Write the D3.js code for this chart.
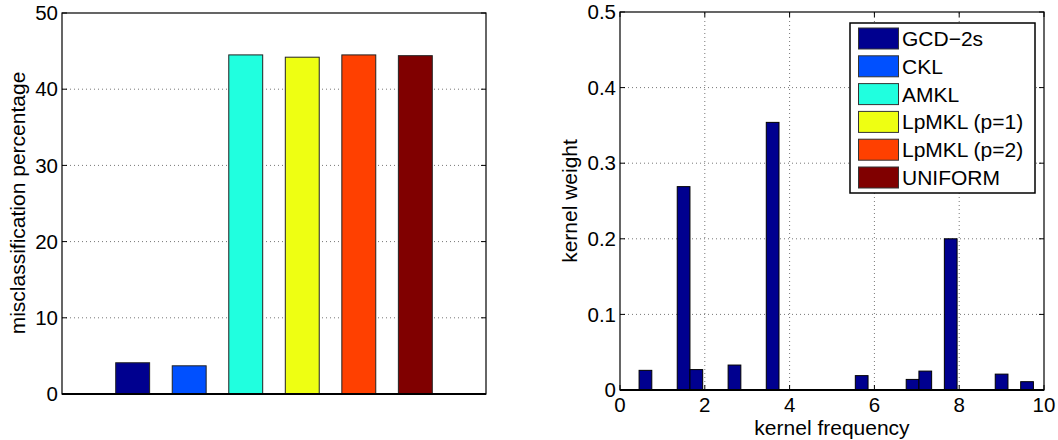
<!DOCTYPE html>
<html>
<head>
<meta charset="utf-8">
<script src="https://cdn.jsdelivr.net/npm/d3@7"></script>
<style>
  body { margin: 0; background: #fff; }
  text { font-family: "Liberation Sans", Arial, Helvetica, sans-serif; fill: #000; }
</style>
</head>
<body>
<svg id="chart" width="1058" height="440"></svg>
<script>
// methods (shared by both panels)
const methods = ['GCD\u22122s', 'CKL', 'AMKL', 'LpMKL (p=1)', 'LpMKL (p=2)', 'UNIFORM']
const methodColors = ['#00008f', '#0050ff', '#20ffdf', '#eeff12', '#ff4000', '#800000']

// left panel: misclassification percentage
const errorRates = [4.1, 3.7, 44.5, 44.2, 44.5, 44.4]
const errorTicks = [0, 10, 20, 30, 40, 50]

// right panel: kernel weights of GCD-2s
const kernelFreqs = [0.6, 1.5, 1.8, 2.7, 3.6, 5.7, 6.9, 7.2, 7.8, 9.0, 9.6]
const kernelWeights = [0.026, 0.269, 0.027, 0.033, 0.354, 0.019, 0.014, 0.025, 0.2, 0.021, 0.011]
const freqTicks = [0, 2, 4, 6, 8, 10]
const weightTicks = [0, 0.1, 0.2, 0.3, 0.4, 0.5]

const fontSize = 21
const tickFont = 20.5
const tickLen = 5
const gridDash = '1,3'
const svg = d3.select('#chart')

function drawFrame (g, x, y, opts) {
  const [x0, x1] = x.range()
  const [y0, y1] = y.range()
  // grid
  if (opts.xGrid) {
    g.append('g').selectAll('line')
      .data(opts.xTicks.filter(d => x(d) > x0 + 1 && x(d) < x1 - 1))
      .join('line')
        .attr('x1', d => x(d)).attr('x2', d => x(d))
        .attr('y1', y0).attr('y2', y1)
        .attr('stroke', '#777').attr('stroke-dasharray', gridDash)
  }
  g.append('g').selectAll('line')
    .data(opts.yTicks.filter(d => y(d) < y0 - 1 && y(d) > y1 + 1))
    .join('line')
      .attr('x1', x0).attr('x2', x1)
      .attr('y1', d => y(d)).attr('y2', d => y(d))
      .attr('stroke', '#777').attr('stroke-dasharray', gridDash)
}

function drawAxes (g, x, y, opts) {
  const [x0, x1] = x.range()
  const [y0, y1] = y.range()
  // inside ticks on left and right
  const yt = g.append('g')
  yt.selectAll('line.l').data(opts.yTicks).join('line').attr('class', 'l')
    .attr('x1', x0).attr('x2', x0 + tickLen)
    .attr('y1', d => y(d)).attr('y2', d => y(d)).attr('stroke', '#000')
  yt.selectAll('line.r').data(opts.yTicks).join('line').attr('class', 'r')
    .attr('x1', x1).attr('x2', x1 - tickLen)
    .attr('y1', d => y(d)).attr('y2', d => y(d)).attr('stroke', '#000')
  yt.selectAll('text').data(opts.yTicks).join('text')
    .attr('x', x0 - 4).attr('y', d => y(d)).attr('dy', '0.35em')
    .attr('text-anchor', 'end').attr('font-size', tickFont)
    .text(opts.yFormat)
  if (opts.xTicks) {
    const xt = g.append('g')
    xt.selectAll('line.b').data(opts.xTicks).join('line').attr('class', 'b')
      .attr('x1', d => x(d)).attr('x2', d => x(d))
      .attr('y1', y0).attr('y2', y0 - tickLen).attr('stroke', '#000')
    xt.selectAll('line.t').data(opts.xTicks).join('line').attr('class', 't')
      .attr('x1', d => x(d)).attr('x2', d => x(d))
      .attr('y1', y1).attr('y2', y1 + tickLen).attr('stroke', '#000')
    xt.selectAll('text').data(opts.xTicks).join('text')
      .attr('x', d => x(d)).attr('y', y0 + 22)
      .attr('text-anchor', 'middle').attr('font-size', tickFont)
      .text(d => d)
  }
  // box
  g.append('rect')
    .attr('x', x0).attr('y', y1).attr('width', x1 - x0).attr('height', y0 - y1)
    .attr('fill', 'none').attr('stroke', '#000').attr('stroke-width', 1.2)
  g.append('line')
    .attr('x1', x0).attr('x2', x1).attr('y1', y0).attr('y2', y0)
    .attr('stroke', '#000').attr('stroke-width', 2)
}

// ---- left panel ----
const xL = d3.scaleLinear().domain([-0.25, 7.25]).range([62, 486])
const yL = d3.scaleLinear().domain([0, 50]).range([394, 13])
const gL = svg.append('g')
drawFrame(gL, xL, yL, { yTicks: errorTicks })
gL.append('g').selectAll('rect')
  .data(errorRates)
  .join('rect')
    .attr('x', (d, i) => xL(i + 1 - 0.3))
    .attr('width', xL(0.6) - xL(0))
    .attr('y', d => yL(d))
    .attr('height', d => yL(0) - yL(d))
    .attr('fill', (d, i) => methodColors[i])
    .attr('stroke', '#222').attr('stroke-width', 1)
drawAxes(gL, xL, yL, { yTicks: errorTicks, yFormat: d => d })
gL.append('text')
  .attr('transform', 'translate(25,203) rotate(-90)')
  .attr('text-anchor', 'middle').attr('font-size', fontSize)
  .text('misclassification percentage')

// ---- right panel ----
const xR = d3.scaleLinear().domain([0, 10]).range([620, 1044])
const yR = d3.scaleLinear().domain([0, 0.5]).range([390, 12])
const gR = svg.append('g')
drawFrame(gR, xR, yR, { xGrid: true, xTicks: freqTicks, yTicks: weightTicks })
const barW = 0.3
gR.append('g').selectAll('rect')
  .data(kernelWeights)
  .join('rect')
    .attr('x', (d, i) => xR(kernelFreqs[i] - barW / 2))
    .attr('width', xR(barW) - xR(0))
    .attr('y', d => yR(d))
    .attr('height', d => yR(0) - yR(d))
    .attr('fill', methodColors[0])
    .attr('stroke', '#000').attr('stroke-width', 1)
drawAxes(gR, xR, yR, {
  xTicks: freqTicks, yTicks: weightTicks,
  yFormat: d => d === 0 ? '0' : d3.format('.1f')(d)
})
gR.append('text')
  .attr('transform', 'translate(577,201) rotate(-90)')
  .attr('text-anchor', 'middle').attr('font-size', fontSize)
  .text('kernel weight')
gR.append('text')
  .attr('x', 832).attr('y', 435)
  .attr('text-anchor', 'middle').attr('font-size', fontSize)
  .text('kernel frequency')

// legend
const legend = gR.append('g').attr('transform', 'translate(850,23)')
legend.append('rect')
  .attr('width', 185).attr('height', 170)
  .attr('fill', '#fff').attr('stroke', '#000').attr('stroke-width', 1.5)
const rowH = 27.8
const item = legend.selectAll('g.item')
  .data(methods)
  .join('g').attr('class', 'item')
    .attr('transform', (d, i) => `translate(0,${15.5 + i * rowH})`)
item.append('rect')
  .attr('x', 8.5).attr('y', -10.5).attr('width', 40).attr('height', 21)
  .attr('fill', (d, i) => methodColors[i])
  .attr('stroke', '#333').attr('stroke-width', 1)
item.append('text')
  .attr('x', 52).attr('y', 0).attr('dy', '0.36em')
  .attr('font-size', fontSize)
  .text(d => d)
</script>
</body>
</html>
